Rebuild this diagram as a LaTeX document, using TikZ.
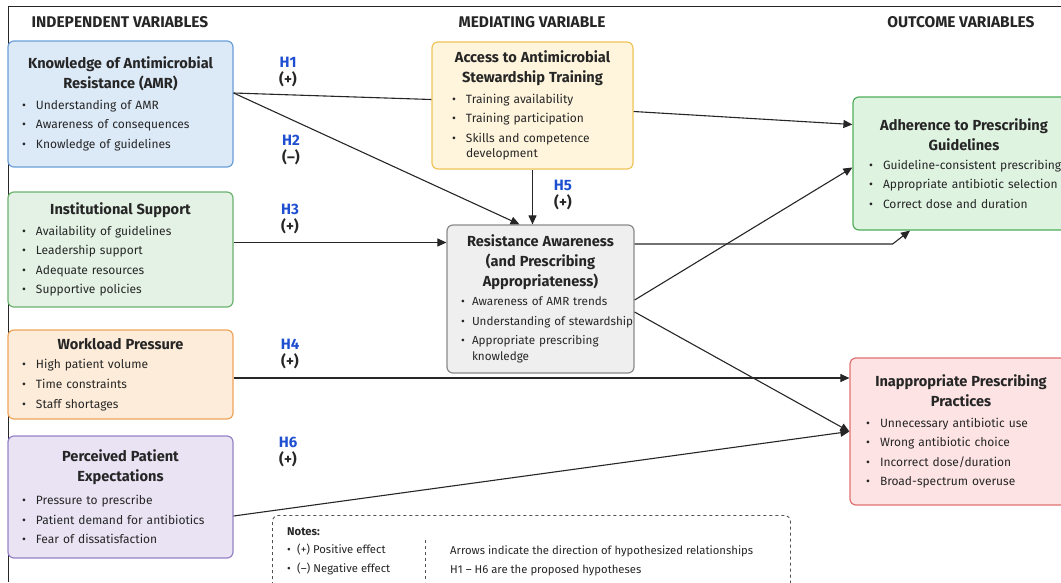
\documentclass[tikz,border=0pt]{standalone}
\usepackage{fontspec}
\setmainfont{Fira Sans}
\usetikzlibrary{arrows.meta,positioning}

\definecolor{hblue}{HTML}{1F4FD1}
\definecolor{inkc}{HTML}{262626}
\definecolor{kfill}{HTML}{DCE9F7}\definecolor{kdraw}{HTML}{6A9FD8}
\definecolor{ifill}{HTML}{E3F2E4}\definecolor{idraw}{HTML}{6BB36F}
\definecolor{wfill}{HTML}{FDECD9}\definecolor{wdraw}{HTML}{EEA55A}
\definecolor{pfill}{HTML}{E9E3F4}\definecolor{pdraw}{HTML}{9682C8}
\definecolor{afill}{HTML}{FFF5DD}\definecolor{adraw}{HTML}{F0C35A}
\definecolor{rfill}{HTML}{EFEFEF}\definecolor{rdraw}{HTML}{8A8A8A}
\definecolor{gfill}{HTML}{DFF3E1}\definecolor{gdraw}{HTML}{4FAE5A}
\definecolor{xfill}{HTML}{FDE3E3}\definecolor{xdraw}{HTML}{E07070}

\newcommand{\itm}{\makebox[14pt][l]{\textbullet}}
\newcommand{\itmn}{\makebox[11pt][l]{\textbullet}}
\newcommand{\boxtitle}[1]{\parbox[b]{\linewidth}{\centering\bfseries\fontsize{14.6}{20}\selectfont #1}}

\begin{document}
\begin{tikzpicture}[x=1pt, y=-1pt,
  box/.style={draw, rounded corners=6pt, line width=1.2pt, align=left, inner xsep=14pt,
    inner ysep=3pt, text=inkc, font=\fontsize{12}{19.6}\selectfont},
  head/.style={text=inkc, font=\fontsize{15.5}{17}\selectfont\bfseries},
  hyp/.style={align=center, text=inkc, font=\fontsize{15}{17}\selectfont\bfseries},
  arr/.style={-{Triangle[length=9pt,width=8pt]}, line width=1.1pt, draw=inkc},
  link/.style={line width=1.1pt, draw=inkc}]

\useasboundingbox (0,0) rectangle (1061,582);

% Frame
\draw[line width=0.8pt, inkc] (8,582) -- (8,6) -- (1061,6);

% Column headings
\node[head] (indep) at (120,22) {INDEPENDENT VARIABLES};
\node[head] (medi) at (532,22) {MEDIATING VARIABLE};
\node[head] (outc) at (961,22) {OUTCOME VARIABLES};

% Independent variables
\node[box, draw=kdraw, fill=kfill, text width=197pt, minimum height=126pt] (know) at (120.5,104)
  {\boxtitle{Knowledge of Antimicrobial\\Resistance (AMR)}\\[1pt]
   \itm Understanding of AMR\\ \itm Awareness of consequences\\ \itm Knowledge of guidelines};
\node[box, draw=idraw, fill=ifill, text width=197pt, minimum height=115pt] (inst) at (120.5,249.5)
  {\boxtitle{Institutional Support}\\[1pt]
   \itm Availability of guidelines\\ \itm Leadership support\\ \itm Adequate resources\\ \itm Supportive policies};
\node[box, draw=wdraw, fill=wfill, text width=197pt, minimum height=89pt] (work) at (120.5,374.5)
  {\boxtitle{Workload Pressure}\\
   \itm High patient volume\\ \itm Time constraints\\ \itm Staff shortages};
\node[box, draw=pdraw, fill=pfill, text width=197pt, minimum height=122pt] (perc) at (120.5,497)
  {\boxtitle{Perceived Patient\\Expectations}\\[3pt]
   \itm Pressure to prescribe\\ \itm Patient demand for antibiotics\\ \itm Fear of dissatisfaction};

% Mediating variables
\node[box, draw=adraw, fill=afill, inner xsep=20pt, text width=161pt, minimum height=127pt] (access) at (532.5,105.5)
  {\boxtitle{Access to Antimicrobial\\Stewardship Training}\\[1pt]
   \itm Training availability\\ \itm Training participation\\ \itm Skills and competence\\[-4pt]
   \hspace*{14pt}development};
\node[box, draw=rdraw, fill=rfill, text width=159pt, minimum height=148pt,
  font=\fontsize{11.7}{19.6}\selectfont] (resist) at (540.5,299)
  {\boxtitle{Resistance Awareness\\(and Prescribing\\Appropriateness)}\\[-1pt]
   \itmn Awareness of AMR trends\\ \itmn \mbox{Understanding of stewardship}\\ \itmn Appropriate prescribing\\[-4pt]
   \hspace*{11pt}knowledge};

% Outcome variables
\node[box, draw=gdraw, fill=gfill, inner xsep=16pt, text width=190pt, minimum height=133pt] (adher) at (964,163.5)
  {\boxtitle{Adherence to Prescribing\\Guidelines}\\[-1pt]
   \itm \mbox{Guideline-consistent prescribing}\\ \itm Appropriate antibiotic selection\\ \itm Correct dose and duration};
\node[box, draw=xdraw, fill=xfill, inner xsep=16pt, text width=190pt, minimum height=147pt] (inappr) at (961,431.5)
  {\boxtitle{Inappropriate Prescribing\\Practices}\\[1pt]
   \itm Unnecessary antibiotic use\\ \itm Wrong antibiotic choice\\ \itm Incorrect dose/duration\\ \itm Broad-spectrum overuse};

% Paths
\draw[link] ([yshift=11pt]know.east) -- ([yshift=6pt]access.west);
\draw[arr] ([yshift=11pt]know.east) -- ([xshift=-21pt]resist.north);
\draw[arr] (access.south) -- (access.south |- resist.north);
\draw[arr] ([yshift=7pt]inst.east) -- ([yshift=7pt]inst.east -| resist.west);
\draw[arr] ([yshift=-6pt]access.east) -- ([yshift=39pt]adher.west);
\draw[arr] ([yshift=55pt]resist.east) -- ++(258,0) -- ([xshift=-54pt]adher.south);
\draw[arr] ([yshift=-1pt]resist.east) -- ([yshift=-4pt]adher.west);
\draw[arr] ([yshift=-13pt]resist.east) -- (inappr.west);
\draw[arr] ([yshift=-3.5pt]work.east) -- ([yshift=-3.5pt]work.east -| inappr.west);
\draw[arr] ([yshift=-19pt]perc.east) -- (inappr.west);

% Hypothesis labels
\node[hyp] (h1) at (288,72) {\textcolor{hblue}{H1}\\(+)};
\node[hyp] (h2) at (291,150) {\textcolor{hblue}{H2}\\(--)};
\node[hyp] (h3) at (290,219) {\textcolor{hblue}{H3}\\(+)};
\node[hyp] (h4) at (290,354) {\textcolor{hblue}{H4}\\(+)};
\node[hyp] (h5) at (563,195) {\textcolor{hblue}{H5}\\(+)};
\node[hyp] (h6) at (288,452) {\textcolor{hblue}{H6}\\(+)};

% Notes
\node[draw=inkc!80, dashed, rounded corners=6pt, line width=0.9pt, minimum width=518pt,
  minimum height=90pt, anchor=north west] (notes) at (272,515) {};
\node[anchor=north west, align=left, text=inkc, inner sep=0pt,
  font=\fontsize{11.3}{18.5}\selectfont] (notesL) at (287,527)
  {\textbf{Notes:}\\ \makebox[10pt][l]{\textbullet}(+) Positive effect\\ \makebox[10pt][l]{\textbullet}(--) Negative effect};
\node[anchor=north west, align=left, text=inkc, inner sep=0pt,
  font=\fontsize{11.3}{18.5}\selectfont] (notesR) at (450,545.5)
  {Arrows indicate the direction of hypothesized relationships\\ H1 -- H6 are the proposed hypotheses};
\draw[dashed, line width=0.9pt, inkc!80] (425,540) -- (425,582);
\end{tikzpicture}
\end{document}
